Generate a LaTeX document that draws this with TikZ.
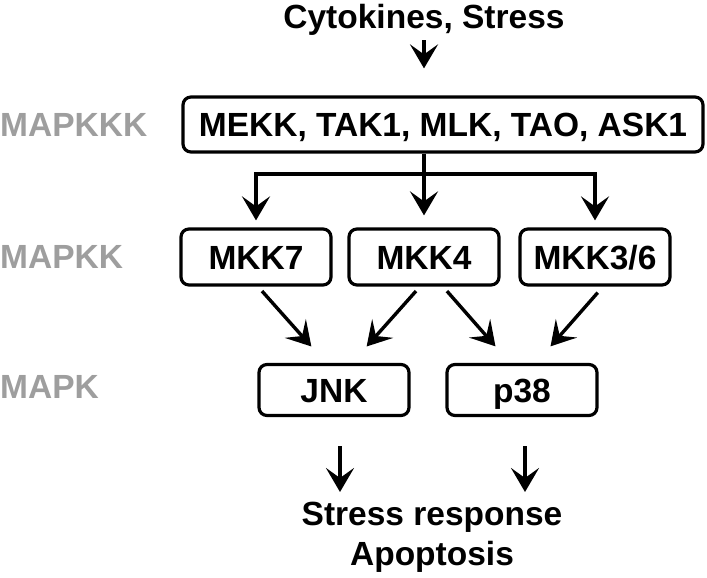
\documentclass[tikz,border=0pt]{standalone}
\usepackage{fontspec}
\setmainfont{Liberation Sans}
\usetikzlibrary{arrows.meta}
\definecolor{levelgray}{RGB}{158,158,158}
\begin{document}
\begin{tikzpicture}[x=1pt,y=-1pt,
    txt/.style={font=\fontsize{33.5}{40}\selectfont\bfseries, inner sep=0pt},
    kbox/.style={txt, draw, line width=3.2pt, rounded corners=8pt,
      minimum width=150pt, minimum height=56pt, text height=24.5pt, text depth=0pt},
    level/.style={txt, text=levelgray, anchor=west},
    arr/.style={line width=3.4pt, -{Stealth[length=24pt,width=28pt,inset=10pt]}}]
  \useasboundingbox (0,0) rectangle (707,578);

  % levels
  \node[level] (lkkk) at (0,125) {MAPKKK};
  \node[level] (lkk) at (0,257) {MAPKK};
  \node[level] (lk) at (0,387) {MAPK};

  % kinases
  \node[txt, anchor=base] (cyto) at (424,29) {Cytokines, Stress};
  \node[kbox, minimum width=520pt, minimum height=55pt] (kkk) at (443,124.5) {MEKK, TAK1, MLK, TAO, ASK1};
  \node[kbox] (mkk7) at (256,257) {MKK7};
  \node[kbox] (mkk4) at (424,257) {MKK4};
  \node[kbox] (mkk36) at (595,257) {MKK3/6};
  \node[kbox, minimum height=51pt] (jnk) at (334,390) {JNK};
  \node[kbox, minimum height=51pt] (p38) at (522,390) {p38};
  \node[txt, align=center, anchor=north] (resp) at (432,502) {Stress response\\Apoptosis};

  % arrows
  \draw[arr, shorten <=4pt, shorten >=27pt] (cyto) -- (cyto |- kkk.north);
  \draw[arr, shorten >=12pt] (mkk4.north |- kkk.south) -- (mkk4.north);
  \coordinate (bar) at (0,174);
  \draw[arr, shorten >=7pt] (mkk4.north |- bar) -| (mkk7.north);
  \draw[arr, shorten >=7pt] (mkk4.north |- bar) -| (mkk36.north);

  \draw[arr, shorten <=6pt, shorten >=22pt] ([xshift=2pt]mkk7.south) -- ([xshift=-8pt]jnk.north);
  \draw[arr, shorten <=6pt, shorten >=22pt] ([xshift=-4pt]mkk4.south) -- ([xshift=18pt]jnk.north);
  \draw[arr, shorten <=6pt, shorten >=22pt] ([xshift=19pt]mkk4.south) -- ([xshift=-12pt]p38.north);
  \draw[arr, shorten <=8pt, shorten >=22pt] ([xshift=8pt]mkk36.south) -- ([xshift=14pt]p38.north);

  \draw[arr, shorten <=29pt, shorten >=10pt] ([xshift=6pt]jnk.south) -- ([xshift=6pt]jnk.south |- resp.north);
  \draw[arr, shorten <=29pt, shorten >=10pt] ([xshift=3pt]p38.south) -- ([xshift=3pt]p38.south |- resp.north);
\end{tikzpicture}
\end{document}
